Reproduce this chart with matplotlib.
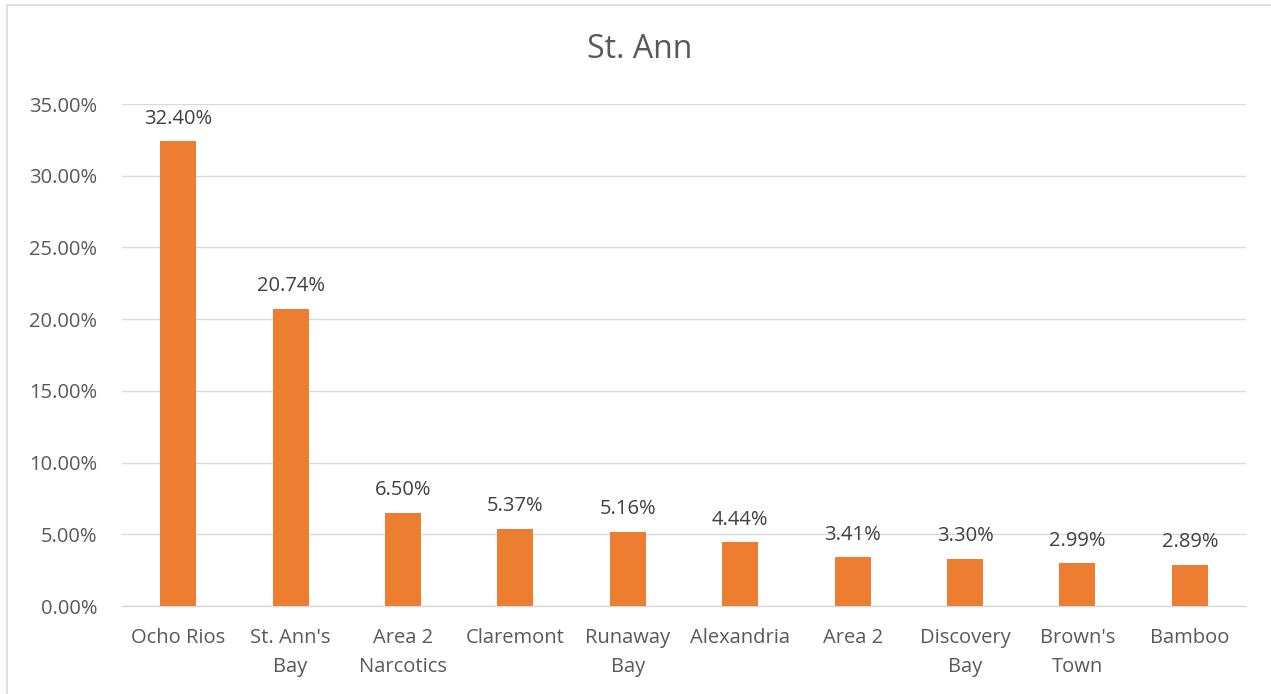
import matplotlib
matplotlib.use("Agg")
import matplotlib.pyplot as plt
from matplotlib.patches import Rectangle
from matplotlib.ticker import FuncFormatter, MultipleLocator

categories = ["Ocho Rios", "St. Ann's\nBay", "Area 2\nNarcotics", "Claremont", "Runaway\nBay",
              "Alexandria", "Area 2", "Discovery\nBay", "Brown's\nTown", "Bamboo"]
values = [32.40, 20.74, 6.50, 5.37, 5.16, 4.44, 3.41, 3.30, 2.99, 2.89]
title = "St. Ann"

plt.rcParams['font.family'] = ['Open Sans', 'DejaVu Sans']

fig = plt.figure(figsize=(12.71, 6.94), dpi=100)
ax = fig.add_axes([122/1271, 1-606/694, (1246-122)/1271, (606-104)/694])

x = range(len(categories))
ax.bar(x, values, width=0.32, color="#ED7D31", zorder=3)
for xi, v in zip(x, values):
    ax.annotate(f"{v:.2f}%", (xi, v), xytext=(0, 9), textcoords="offset points",
                ha="center", va="bottom", fontsize=14.5, color="#404040")

ax.set_xlim(-0.5, len(categories) - 0.5)
ax.set_ylim(0, 35)
ax.yaxis.set_major_locator(MultipleLocator(5))
ax.yaxis.set_major_formatter(FuncFormatter(lambda v, p: f"{v:.2f}%"))
ax.set_xticks(list(x))
ax.set_xticklabels(categories, fontsize=14.5, color="#595959", linespacing=1.6)
ax.tick_params(axis='y', labelsize=14.5, labelcolor="#595959", length=0, pad=18)
ax.tick_params(axis='x', length=0, pad=16)
ax.grid(axis='y', color="#d9d9d9", linewidth=1, zorder=0)
for s in ["top", "right", "left"]:
    ax.spines[s].set_visible(False)
ax.spines["bottom"].set_color("#d9d9d9")
ax.spines["bottom"].set_linewidth(1)

fig.text(640/1271, 1-49/694, title, ha="center", va="center", fontsize=23, color="#595959")

fig.patches.append(Rectangle((7/1271, -0.1), 1.2, 1-5/694+0.1, transform=fig.transFigure,
                             fill=False, edgecolor="#d9d9d9", linewidth=1.2))

fig.savefig("out.png", dpi=100, facecolor="white")
